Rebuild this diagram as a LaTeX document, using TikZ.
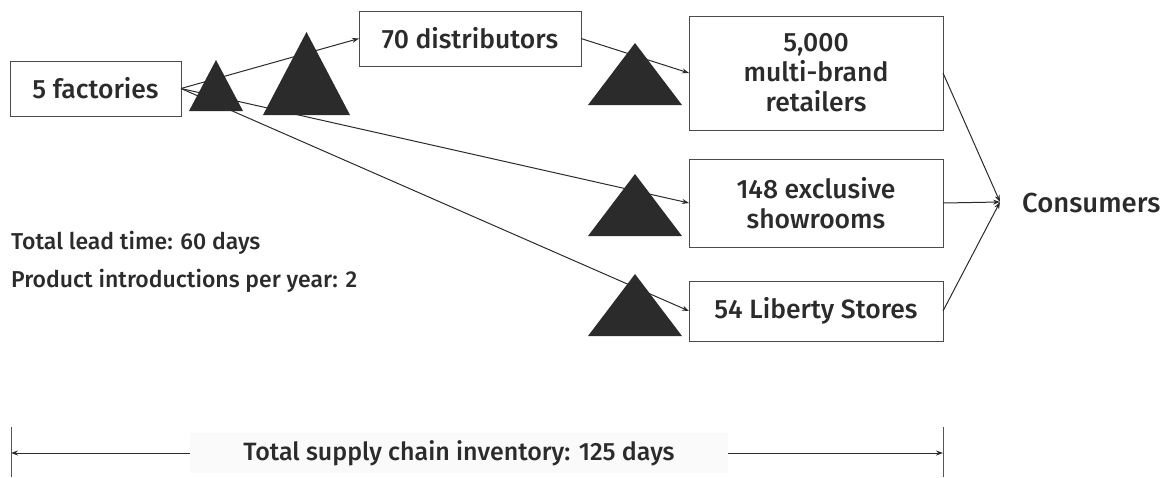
\documentclass[tikz,border=0pt]{standalone}
\usepackage{fontspec}
\setmainfont{Fira Sans}[UprightFont=* Medium]
\usetikzlibrary{arrows.meta}
\definecolor{ink}{HTML}{2B2B2B}
\newcommand{\boxfont}{\fontsize{26.5}{30}\selectfont}
\tikzstyle{outlet}=[draw=ink!85, line width=1pt, fill=white, text=ink, font=\boxfont, align=center, inner sep=0, outer sep=0]
\tikzstyle{flow}=[draw=ink, line width=1pt, -{Stealth[length=7pt, width=5pt]}]
\tikzstyle{note}=[text=ink, anchor=west, font=\fontsize{23}{26}\selectfont, inner sep=0]
% stock pile: base centre, base width, height
\newcommand{\stockpile}[3]{\fill[ink] (#1) +(-#2/2, 0) -- +(0, -#3) -- +(#2/2, 0) -- cycle;}

\begin{document}
\begin{tikzpicture}[x=1pt, y=-1pt]
    \useasboundingbox (0, 0) rectangle (1169, 477);
    % inventory piles
    \stockpile{216, 111}{54}{51}
    \stockpile{306.5, 115}{87}{83}
    \stockpile{635, 105}{94}{62}
    \stockpile{635, 236}{94}{62}
    \stockpile{635, 336}{94}{62}
    % stages
    \node[outlet, minimum width=171, minimum height=55] (fact) at (95.5, 88.5) {5 factories};
    \node[outlet, minimum width=222, minimum height=55] (dist) at (470, 38.5) {70 distributors};
    \node[outlet, minimum width=254, minimum height=114] (multi) at (816, 73) {5,000\\multi-brand\\retailers};
    \node[outlet, minimum width=254, minimum height=88] (show) at (816, 203) {148 exclusive\\showrooms};
    \node[outlet, minimum width=254, minimum height=60] (liberty) at (816, 311) {54 Liberty Stores};
    \node[text=ink, font=\fontsize{27.5}{30}\selectfont, anchor=west, inner sep=0] (cons) at (1022, 203) {Consumers};
    \coordinate (hub) at (1000, 202);
    \draw[flow] (fact.east) -- (dist.west);
    \draw[flow] (fact.east) -- (show.west);
    \draw[flow] (fact.east) -- (liberty.west);
    \draw[flow] (dist.east) -- (multi.west);
    \draw[flow] (multi.east) -- (hub);
    \draw[flow] (show.east) -- (hub);
    \draw[flow] (liberty.east) -- (hub);
    % figures
    \node[note] (lead) at (11, 243) {Total lead time: 60 days};
    \node[note] (intro) at (11, 281) {Product introductions per year: 2};
    % span of the whole chain
    \coordinate (lt) at (11, 453);
    \coordinate (rt) at (943, 453);
    \node[fill=black!2, text=ink, font=\fontsize{25}{28}\selectfont, inner sep=0, minimum width=538, minimum height=40] (inv) at (459, 453) {Total supply chain inventory: 125 days};
    \draw[flow] (inv.west) -- (lt);
    \draw[flow] (inv.east) -- (rt);
    \draw[ink!80, line width=1pt] (lt) ++(0, -26) -- ++(0, 50);
    \draw[ink!80, line width=1pt] (rt) ++(0, -26) -- ++(0, 50);
\end{tikzpicture}
\end{document}
